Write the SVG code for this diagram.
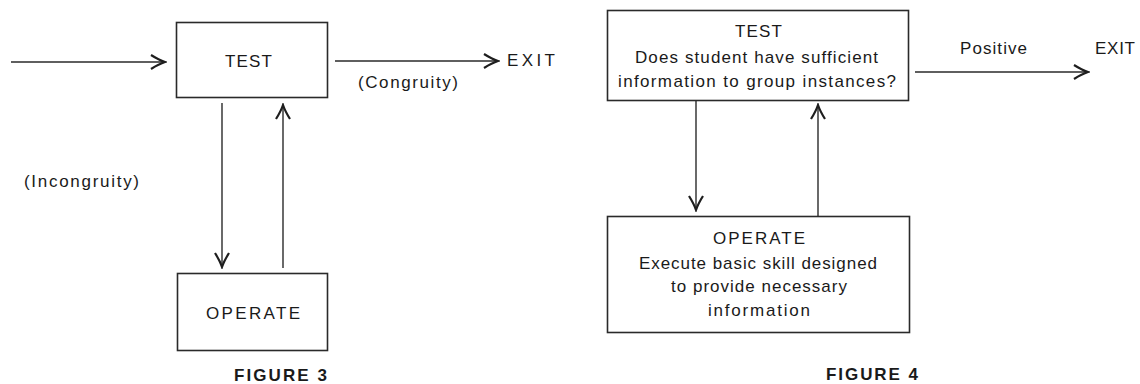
<svg xmlns="http://www.w3.org/2000/svg" width="1140" height="384" viewBox="0 0 1140 384">
<style>
.box{fill:none;stroke:#2a2a2a;stroke-width:1.6}
.ln{fill:none;stroke:#2a2a2a;stroke-width:1.4}
.t{font-family:"Liberation Sans",Arial,sans-serif;font-size:17px;fill:#1a1a1a;text-anchor:middle}
.fig{font-family:"Liberation Sans",Arial,sans-serif;font-size:17px;font-weight:bold;fill:#1a1a1a;text-anchor:middle}
</style>
<defs>
<marker id="arr" markerUnits="userSpaceOnUse" viewBox="-16 -9 18 18" refX="0" refY="0" markerWidth="18" markerHeight="18" orient="auto">
<path d="M-14,-7 Q-6,-2 0,0 Q-6,2 -14,7" fill="none" stroke="#1e1e1e" stroke-width="2.2" stroke-linejoin="miter"/>
</marker>
</defs>
<rect width="1140" height="384" fill="#ffffff"/>

<g id="connectors">
<line class="ln" x1="11" y1="62" x2="165" y2="62" marker-end="url(#arr)"/>
<line class="ln" x1="335" y1="61" x2="498" y2="61" marker-end="url(#arr)"/>
<line class="ln" x1="222" y1="103" x2="222" y2="267" marker-end="url(#arr)"/>
<line class="ln" x1="283" y1="268" x2="283" y2="105" marker-end="url(#arr)"/>
<line class="ln" x1="696" y1="100" x2="696" y2="210" marker-end="url(#arr)"/>
<line class="ln" x1="818" y1="216" x2="818" y2="105" marker-end="url(#arr)"/>
<line class="ln" x1="915" y1="72" x2="1088" y2="72" marker-end="url(#arr)"/>
</g>

<g id="fig3-test">
<rect class="box" x="176.5" y="22.5" width="151" height="75"/>
<text class="t" x="248.5" y="67" textLength="47" lengthAdjust="spacing">TEST</text>
</g>
<g id="fig3-operate">
<rect class="box" x="177.5" y="273.5" width="150" height="77"/>
<text class="t" x="253" y="319" textLength="94" lengthAdjust="spacing">OPERATE</text>
</g>
<g id="fig3-exit">
<text class="t" x="531" y="66" textLength="48" lengthAdjust="spacing">EXIT</text>
</g>
<g id="fig3-labels">
<text class="t" x="408" y="88" textLength="100" lengthAdjust="spacing">(Congruity)</text>
<text class="t" x="81.5" y="187" textLength="115" lengthAdjust="spacing">(Incongruity)</text>
<text class="fig" x="280.5" y="381" textLength="93" lengthAdjust="spacing">FIGURE 3</text>
</g>

<g id="fig4-test">
<rect class="box" x="607.5" y="10.5" width="301" height="90"/>
<text class="t" x="758.5" y="37" textLength="47" lengthAdjust="spacing">TEST</text>
<text class="t" x="756.5" y="63" textLength="243" lengthAdjust="spacing">Does student have sufficient</text>
<text class="t" x="757" y="87" textLength="278" lengthAdjust="spacing">information to group instances?</text>
</g>
<g id="fig4-operate">
<rect class="box" x="607.5" y="216.5" width="302" height="116"/>
<text class="t" x="759" y="244" textLength="92" lengthAdjust="spacing">OPERATE</text>
<text class="t" x="758" y="269" textLength="238" lengthAdjust="spacing">Execute basic skill designed</text>
<text class="t" x="759" y="292" textLength="176" lengthAdjust="spacing">to provide necessary</text>
<text class="t" x="759" y="316" textLength="102" lengthAdjust="spacing">information</text>
</g>
<g id="fig4-exit">
<text class="t" x="1115" y="54" textLength="40" lengthAdjust="spacing">EXIT</text>
</g>
<g id="fig4-labels">
<text class="t" x="993.5" y="54" textLength="67" lengthAdjust="spacing">Positive</text>
<text class="fig" x="872" y="380" textLength="92" lengthAdjust="spacing">FIGURE 4</text>
</g>
</svg>
